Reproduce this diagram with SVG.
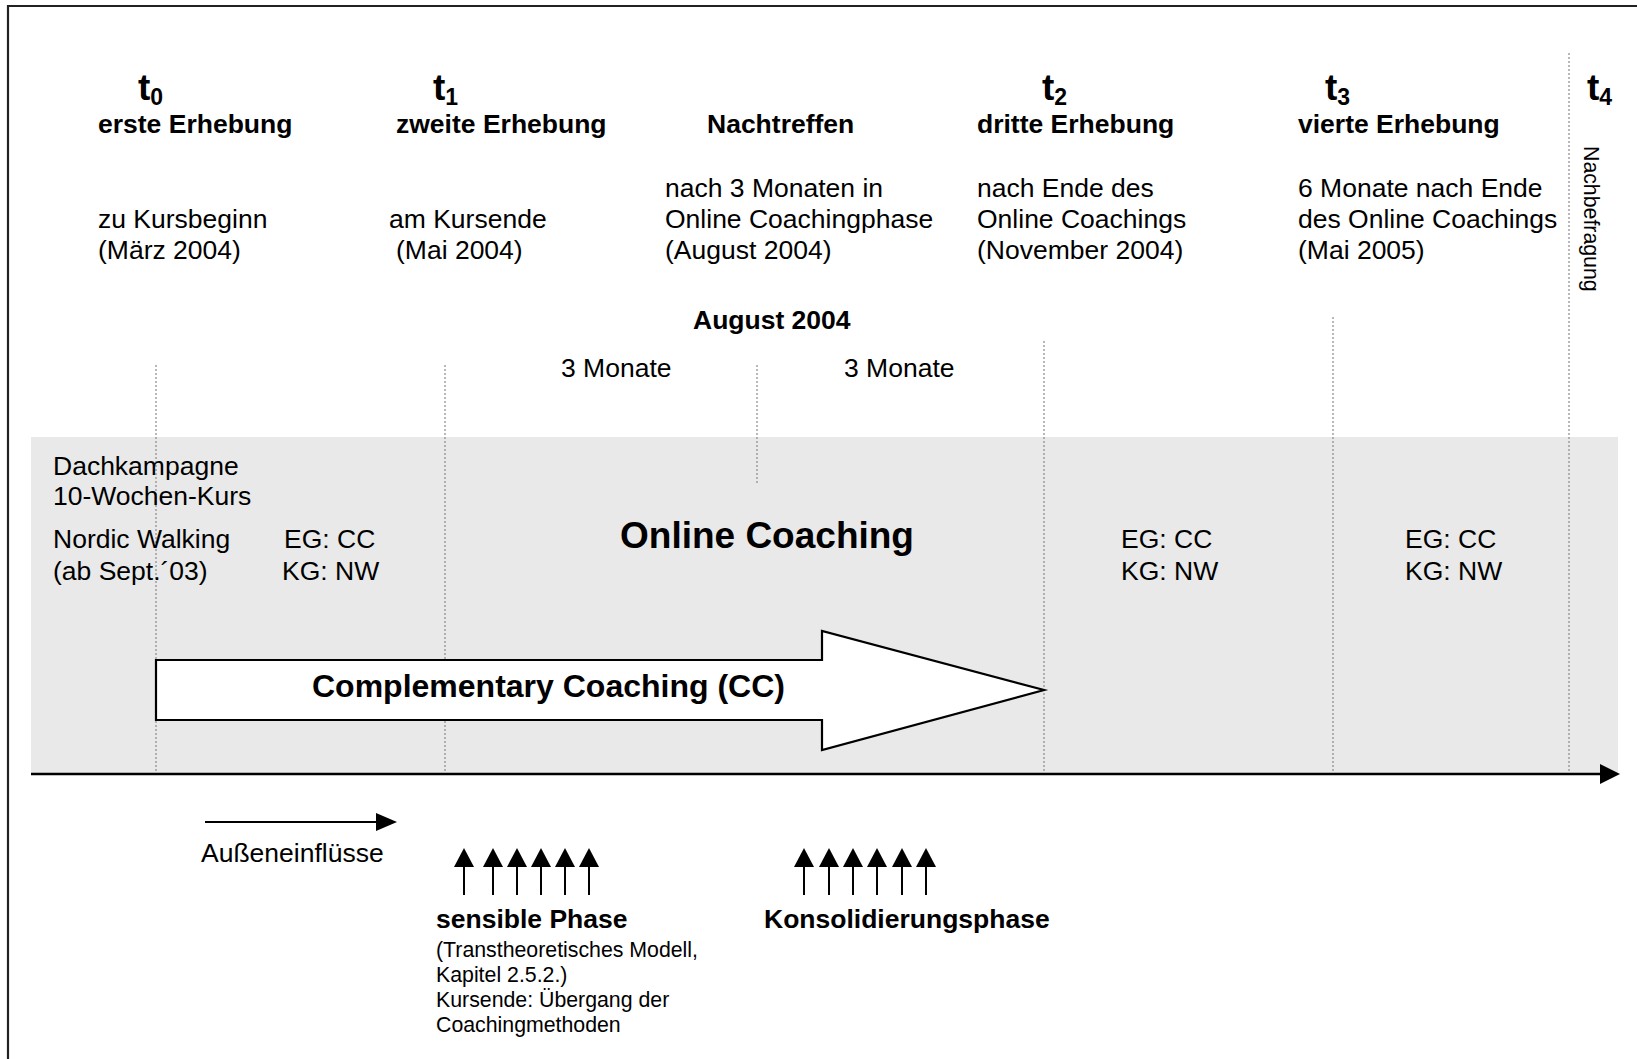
<svg xmlns="http://www.w3.org/2000/svg" width="1637" height="1059" viewBox="0 0 1637 1059">
  <style>
    text { font-family: "Liberation Sans", Arial, sans-serif; fill: #000; }
    .reg { font-size: 26.5px; }
    .bold { font-size: 26.5px; font-weight: bold; }
    .small { font-size: 21.3px; }
    .tmain { font-size: 37px; font-weight: bold; }
    .tsub { font-size: 23px; font-weight: bold; }
    .guide { stroke: #8a8a8a; stroke-width: 1.2; stroke-dasharray: 2 2; fill: none; }
    .line { stroke: #000; fill: none; }
  </style>
  <defs>
    <g id="upArrow">
      <line x1="0" y1="895" x2="0" y2="864" stroke="#000" stroke-width="2"/>
      <polygon points="-10,867 0,848 10,867" fill="#000"/>
    </g>
  </defs>

  <rect x="0" y="0" width="1637" height="1059" fill="#fff"/>

  <!-- outer frame (left and top edges) -->
  <path d="M8,1059 V6 H1637" fill="none" stroke="#222" stroke-width="2.2"/>

  <!-- grey time band -->
  <rect x="31" y="437" width="1587" height="337" fill="#e9e9e9"/>

  <!-- dotted measurement guides -->
  <g id="guides">
    <line class="guide" x1="156" y1="365" x2="156" y2="774"/>
    <line class="guide" x1="445" y1="365" x2="445" y2="774"/>
    <line class="guide" x1="757" y1="365" x2="757" y2="483"/>
    <line class="guide" x1="1044" y1="341" x2="1044" y2="774"/>
    <line class="guide" x1="1333" y1="317" x2="1333" y2="774"/>
    <line class="guide" x1="1569" y1="53" x2="1569" y2="771"/>
  </g>

  <!-- measurement points -->
  <g id="t0">
    <text x="138" y="100"><tspan class="tmain">t</tspan><tspan class="tsub" dy="5">0</tspan></text>
    <text class="bold" x="98" y="133">erste Erhebung</text>
    <text class="reg" x="98" y="228">zu Kursbeginn</text>
    <text class="reg" x="98" y="259">(März 2004)</text>
  </g>
  <g id="t1">
    <text x="433" y="100"><tspan class="tmain">t</tspan><tspan class="tsub" dy="5">1</tspan></text>
    <text class="bold" x="396" y="133">zweite Erhebung</text>
    <text class="reg" x="389" y="228">am Kursende</text>
    <text class="reg" x="396" y="259">(Mai 2004)</text>
  </g>
  <g id="nachtreffen">
    <text class="bold" x="707" y="133">Nachtreffen</text>
    <text class="reg" x="665" y="197">nach 3 Monaten in</text>
    <text class="reg" x="665" y="228">Online Coachingphase</text>
    <text class="reg" x="665" y="259">(August 2004)</text>
  </g>
  <g id="t2">
    <text x="1042" y="100"><tspan class="tmain">t</tspan><tspan class="tsub" dy="5">2</tspan></text>
    <text class="bold" x="977" y="133">dritte Erhebung</text>
    <text class="reg" x="977" y="197">nach Ende des</text>
    <text class="reg" x="977" y="228">Online Coachings</text>
    <text class="reg" x="977" y="259">(November 2004)</text>
  </g>
  <g id="t3">
    <text x="1325" y="100"><tspan class="tmain">t</tspan><tspan class="tsub" dy="5">3</tspan></text>
    <text class="bold" x="1298" y="133">vierte Erhebung</text>
    <text class="reg" x="1298" y="197">6 Monate nach Ende</text>
    <text class="reg" x="1298" y="228">des Online Coachings</text>
    <text class="reg" x="1298" y="259">(Mai 2005)</text>
  </g>
  <g id="t4">
    <text x="1587" y="100"><tspan class="tmain">t</tspan><tspan class="tsub" dy="5">4</tspan></text>
    <text class="small" transform="translate(1584,146) rotate(90)" x="0" y="0">Nachbefragung</text>
  </g>

  <!-- intervals -->
  <g id="intervals">
    <text class="bold" x="693" y="329">August 2004</text>
    <text class="reg" x="561" y="377">3 Monate</text>
    <text class="reg" x="844" y="377">3 Monate</text>
  </g>

  <!-- band contents -->
  <g id="kurs">
    <text class="reg" x="53" y="475">Dachkampagne</text>
    <text class="reg" x="53" y="505">10-Wochen-Kurs</text>
    <text class="reg" x="53" y="548">Nordic Walking</text>
    <text class="reg" x="53" y="580">(ab Sept.´03)</text>
    <text class="reg" x="284" y="548">EG: CC</text>
    <text class="reg" x="282" y="580">KG: NW</text>
  </g>
  <g id="online-coaching">
    <text x="620" y="548" font-size="37" font-weight="bold">Online Coaching</text>
  </g>
  <g id="groups-t2">
    <text class="reg" x="1121" y="548">EG: CC</text>
    <text class="reg" x="1121" y="580">KG: NW</text>
  </g>
  <g id="groups-t3">
    <text class="reg" x="1405" y="548">EG: CC</text>
    <text class="reg" x="1405" y="580">KG: NW</text>
  </g>

  <!-- block arrow -->
  <g id="complementary-coaching">
    <polygon points="156,660 822,660 822,631 1044,690 822,750 822,720 156,720" fill="#fff" stroke="#000" stroke-width="2.2" stroke-linejoin="miter"/>
    <text x="312" y="697" font-size="32" font-weight="bold">Complementary Coaching (CC)</text>
  </g>

  <!-- connectors -->
  <g id="connectors">
    <line class="line" x1="31" y1="774" x2="1602" y2="774" stroke-width="2.5"/>
    <polygon points="1600,764 1620,774 1600,784" fill="#000"/>
    <line class="line" x1="205" y1="822" x2="380" y2="822" stroke-width="2"/>
    <polygon points="376,813 397,822 376,831" fill="#000"/>
    <use href="#upArrow" x="464"/>
    <use href="#upArrow" x="493"/>
    <use href="#upArrow" x="517"/>
    <use href="#upArrow" x="541"/>
    <use href="#upArrow" x="565"/>
    <use href="#upArrow" x="589"/>
    <use href="#upArrow" x="804"/>
    <use href="#upArrow" x="829"/>
    <use href="#upArrow" x="853"/>
    <use href="#upArrow" x="877"/>
    <use href="#upArrow" x="902"/>
    <use href="#upArrow" x="926"/>
  </g>

  <!-- phase labels -->
  <g id="aussen">
    <text class="reg" x="201" y="862">Außeneinflüsse</text>
  </g>
  <g id="sensible-phase">
    <text class="bold" x="436" y="928">sensible Phase</text>
    <text class="small" x="436" y="957">(Transtheoretisches Modell,</text>
    <text class="small" x="436" y="982">Kapitel 2.5.2.)</text>
    <text class="small" x="436" y="1007">Kursende: Übergang der</text>
    <text class="small" x="436" y="1032">Coachingmethoden</text>
  </g>
  <g id="konsolidierung">
    <text class="bold" x="764" y="928">Konsolidierungsphase</text>
  </g>
</svg>
